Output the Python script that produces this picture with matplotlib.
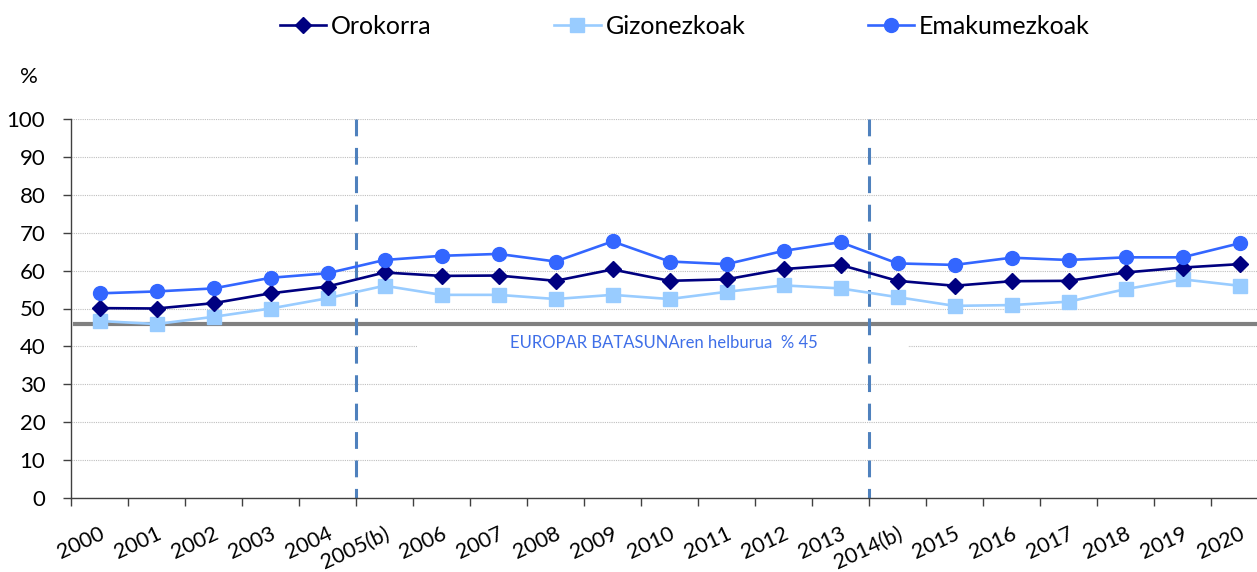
import numpy as np
import matplotlib
matplotlib.use("Agg")
import matplotlib.pyplot as plt
from matplotlib.patches import Rectangle

plt.rcParams['font.family'] = ['Lato', 'DejaVu Sans']

categories = ["2000", "2001", "2002", "2003", "2004", "2005(b)", "2006", "2007",
              "2008", "2009", "2010", "2011", "2012", "2013", "2014(b)", "2015",
              "2016", "2017", "2018", "2019", "2020"]
orokorra = [50.1, 50.0, 51.4, 54.0, 55.8, 59.5, 58.6, 58.7, 57.3, 60.3, 57.3,
            57.7, 60.4, 61.5, 57.3, 56.0, 57.2, 57.3, 59.5, 60.8, 61.7]
gizonezkoak = [46.7, 45.9, 47.8, 50.0, 52.7, 56.0, 53.6, 53.6, 52.5, 53.6, 52.5,
               54.4, 56.1, 55.3, 53.0, 50.7, 50.9, 51.8, 55.1, 57.7, 56.0]
emakumezkoak = [54.0, 54.5, 55.3, 58.1, 59.3, 62.8, 63.9, 64.4, 62.4, 67.7, 62.4,
                61.7, 65.2, 67.5, 61.9, 61.5, 63.4, 62.8, 63.5, 63.5, 67.2]
goal_value = 46
goal_label = "EUROPAR BATASUNAren helburua  % 45"
series_names = ["Orokorra", "Gizonezkoak", "Emakumezkoak"]
yticks = [0, 10, 20, 30, 40, 50, 60, 70, 80, 90, 100]

W, H = 1257, 572
fig = plt.figure(figsize=(W / 100, H / 100), dpi=100)
left_px, right_px, top_px, bottom_px = 71, 1268, 119, 498
ax = fig.add_axes([left_px / W, 1 - bottom_px / H,
                   (right_px - left_px) / W, (bottom_px - top_px) / H])

x = np.arange(len(categories))
ax.set_xlim(-0.5, len(categories) - 0.5)
ax.set_ylim(0, 100)

# gridlines
ax.set_yticks(yticks)
ax.yaxis.grid(True, color='#BFBFBF', linewidth=0.8, linestyle=(0, (1, 1)), zorder=0)
ax.set_axisbelow(True)

# goal line
ax.axhline(goal_value, xmin=0.003, xmax=1, color='#808080', linewidth=3.0, zorder=1.5)

# white box behind goal label
ax.add_patch(Rectangle((0.289, 38.6), 0.41, 4.6, transform=ax.get_yaxis_transform(),
                       facecolor='white', edgecolor='none', zorder=1.6))
ax.text(9.9, 40.9, goal_label, color='#3F6FE8', fontsize=12, ha='center', va='center',
        zorder=1.7)

# vertical break lines (before "(b)" categories)
for i, c in enumerate(categories):
    if c.endswith("(b)"):
        ln = ax.axvline(i - 0.5, color='#4F81BD', linewidth=2.2,
                        linestyle=(0, (5.5, 3.8)), zorder=1.8)
        ln.set_ydata([1, 0])

ax.plot(x, orokorra, color='#000080', marker='D', markersize=8, linewidth=1.9,
        label=series_names[0], zorder=3)
ax.plot(x, gizonezkoak, color='#99CCFF', marker='s', markersize=9.5, linewidth=1.9,
        label=series_names[1], zorder=2.5)
ax.plot(x, emakumezkoak, color='#3366FF', marker='o', markersize=10, linewidth=1.9,
        label=series_names[2], zorder=3.5)

# axes styling
for s in ['top', 'right']:
    ax.spines[s].set_visible(False)
for s in ['left', 'bottom']:
    ax.spines[s].set_color('#404040')
    ax.spines[s].set_linewidth(1.0)

ax.tick_params(axis='y', direction='out', length=6, width=1.0, color='#404040',
               labelsize=16, pad=12.5)
ax.set_xticks(np.arange(-0.5, len(categories), 1.0))
ax.set_xticklabels([])
ax.set_xticks(x, minor=True)
ax.set_xticklabels(categories, minor=True)
ax.tick_params(axis='x', which='major', direction='out', length=6, width=1.0, color='#404040')
ax.tick_params(axis='x', which='minor', length=0, labelsize=15.5, pad=18.5)
for lab in ax.get_xticklabels(minor=True):
    lab.set_rotation(25)
    lab.set_ha('right')
    lab.set_rotation_mode('anchor')

fig.text(29 / W, 1 - 77 / H, "%", fontsize=16, ha='center', va='center')

fig.legend(loc='center', bbox_to_anchor=(685 / W, 1 - 26 / H), ncol=3, frameon=False,
           fontsize=18, handlelength=1.85, handletextpad=0.2, columnspacing=4.9,
           borderaxespad=0, borderpad=0)

fig.savefig("out.png", dpi=100)
